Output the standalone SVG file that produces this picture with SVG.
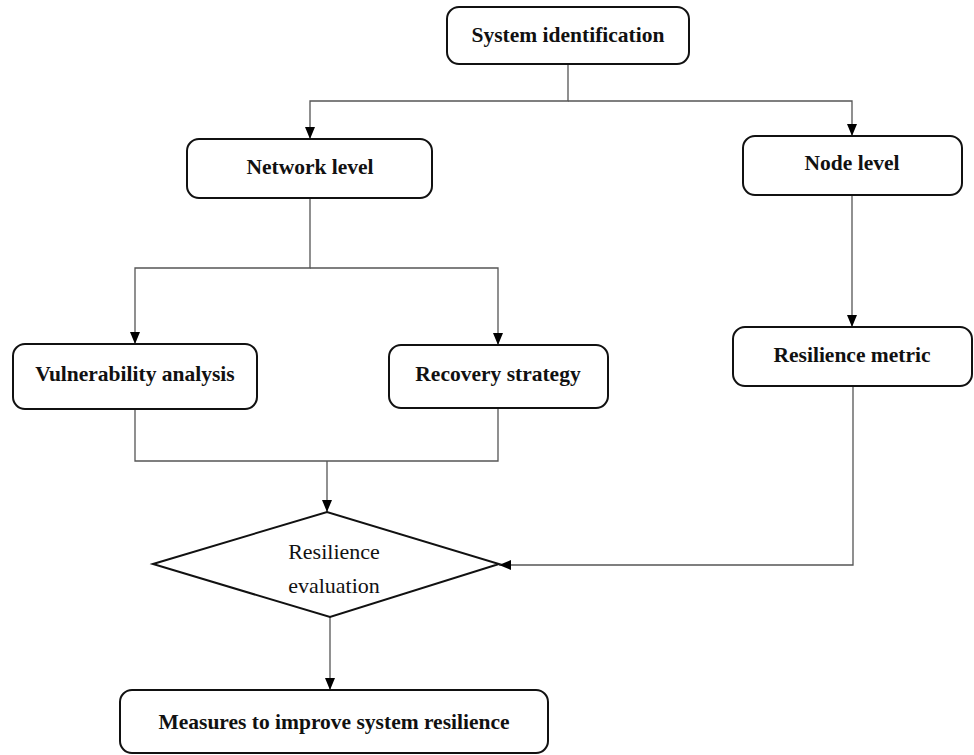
<svg xmlns="http://www.w3.org/2000/svg" width="974" height="755" viewBox="0 0 974 755">
<defs>
<marker id="arr" viewBox="0 0 12 10" refX="12" refY="5" markerWidth="12" markerHeight="10" markerUnits="userSpaceOnUse" orient="auto">
<path d="M0,0 L12,5 L0,10 Z" fill="#000"/>
</marker>
<style>
.box{fill:#fff;stroke:#111;stroke-width:2}
.t{font-family:"Liberation Serif","DejaVu Serif",serif;font-size:21.5px;font-weight:bold;fill:#111;text-anchor:middle}
.tr{font-family:"Liberation Serif","DejaVu Serif",serif;font-size:22px;fill:#111;text-anchor:middle}
.c{fill:none;stroke:#555;stroke-width:1.3}
</style>
</defs>
<rect width="974" height="755" fill="#fff"/>
<g id="connectors">
<path class="c" d="M568,64 V101 H310 V139" marker-end="url(#arr)"/>
<path class="c" d="M568,101 H852 V136" marker-end="url(#arr)"/>
<path class="c" d="M310,198 V268 H135 V344" marker-end="url(#arr)"/>
<path class="c" d="M310,268 H498 V345" marker-end="url(#arr)"/>
<path class="c" d="M852,195 V327" marker-end="url(#arr)"/>
<path class="c" d="M135,409 V461 H498 V408"/>
<path class="c" d="M327,461 V512" marker-end="url(#arr)"/>
<path class="c" d="M853,386 V565 H499" marker-end="url(#arr)"/>
<path class="c" d="M330,617 V690" marker-end="url(#arr)"/>
</g>
<g id="system-identification">
<rect class="box" x="447" y="7" width="242" height="57" rx="12"/>
<text class="t" x="568" y="42">System identification</text>
</g>
<g id="network-level">
<rect class="box" x="187" y="139" width="245" height="59" rx="12"/>
<text class="t" x="310" y="174">Network level</text>
</g>
<g id="node-level">
<rect class="box" x="743" y="136" width="219" height="59" rx="12"/>
<text class="t" x="852" y="170">Node level</text>
</g>
<g id="vulnerability-analysis">
<rect class="box" x="13" y="344" width="244" height="65" rx="12"/>
<text class="t" x="135" y="381">Vulnerability analysis</text>
</g>
<g id="recovery-strategy">
<rect class="box" x="389" y="345" width="219" height="63" rx="12"/>
<text class="t" x="498" y="381">Recovery strategy</text>
</g>
<g id="resilience-metric">
<rect class="box" x="733" y="327" width="239" height="59" rx="12"/>
<text class="t" x="852" y="362">Resilience metric</text>
</g>
<g id="resilience-evaluation">
<polygon class="box" points="153,564 327,512 499,564 330,617"/>
<text class="tr" x="334" y="559">Resilience</text>
<text class="tr" x="334" y="593">evaluation</text>
</g>
<g id="measures">
<rect class="box" x="120" y="690" width="428" height="63" rx="12"/>
<text class="t" x="334" y="729">Measures to improve system resilience</text>
</g>
</svg>
